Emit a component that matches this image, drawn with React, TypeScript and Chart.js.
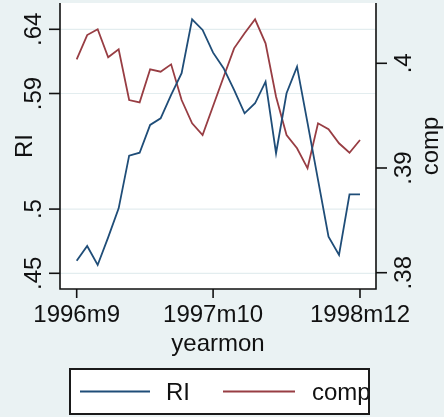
import React, { useEffect, useRef } from "react";
import { Chart, registerables } from "chart.js";

Chart.register(...registerables);

const months: string[] = [
  "1996m9", "1996m10", "1996m11", "1996m12",
  "1997m1", "1997m2", "1997m3", "1997m4", "1997m5", "1997m6",
  "1997m7", "1997m8", "1997m9", "1997m10", "1997m11", "1997m12",
  "1998m1", "1998m2", "1998m3", "1998m4", "1998m5", "1998m6",
  "1998m7", "1998m8", "1998m9", "1998m10", "1998m11", "1998m12",
];

const riValues: number[] = [
  0.4598, 0.4713, 0.4565, 0.478, 0.5006, 0.5416, 0.5439, 0.5655, 0.5707, 0.5889,
  0.6058, 0.6478, 0.6395, 0.6218, 0.6097, 0.5928, 0.5746, 0.5824, 0.5992, 0.5435,
  0.5902, 0.6109, 0.5671, 0.5227, 0.4785, 0.4643, 0.5115, 0.5115,
];

const compValues: number[] = [
  0.40038, 0.4027, 0.40325, 0.40057, 0.40134, 0.39649, 0.39627, 0.39943, 0.3992, 0.3999,
  0.39649, 0.39427, 0.39315, 0.39592, 0.39869, 0.40143, 0.40287, 0.4042, 0.40191, 0.39681,
  0.39315, 0.39188, 0.38997, 0.39427, 0.3937, 0.39236, 0.39146, 0.39267,
];

const leftTicks: number[] = [0.45, 0.5, 0.59, 0.64];
const leftTickLabels: string[] = [".45", ".5", ".59", ".64"];
const rightTicks: number[] = [0.38, 0.39, 0.4];
const rightTickLabels: string[] = [".38", ".39", ".4"];
const xTicks: number[] = [0, 13, 27];

const seriesNames: string[] = ["RI", "comp"];
const xTitle = "yearmon";

const BG = "#eaf2f3";
const BLUE = "#1f4d78";
const RED = "#983d43";
const INK = "#111111";
const FONT = '24px "Liberation Sans", Arial, sans-serif';

const stataPlugin = {
  id: "stataDecor",
  beforeDraw(chart: any) {
    const { ctx, chartArea: a, width, height } = chart;
    ctx.save();
    ctx.fillStyle = BG;
    ctx.fillRect(0, 0, width, height);
    ctx.fillStyle = "#ffffff";
    ctx.fillRect(a.left, a.top, a.right - a.left, a.bottom - a.top);
    const y = chart.scales.y;
    ctx.strokeStyle = "#e3edef";
    ctx.lineWidth = 1.2;
    leftTicks.forEach((t) => {
      const py = y.getPixelForValue(t);
      ctx.beginPath();
      ctx.moveTo(a.left, py);
      ctx.lineTo(a.right, py);
      ctx.stroke();
    });
    ctx.restore();
  },
  afterDraw(chart: any) {
    const { ctx, chartArea: a } = chart;
    const xs = chart.scales.x;
    const ys = chart.scales.y;
    const y1 = chart.scales.y1;
    ctx.save();
    ctx.strokeStyle = INK;
    ctx.lineWidth = 1.6;
    ctx.lineCap = "butt";
    ctx.beginPath();
    ctx.moveTo(a.left, a.top);
    ctx.lineTo(a.left, a.bottom);
    ctx.lineTo(a.right, a.bottom);
    ctx.lineTo(a.right, a.top);
    ctx.stroke();
    ctx.fillStyle = INK;
    ctx.font = FONT;
    leftTicks.forEach((t, i) => {
      const py = ys.getPixelForValue(t);
      ctx.beginPath();
      ctx.moveTo(a.left - 11, py);
      ctx.lineTo(a.left, py);
      ctx.stroke();
      ctx.save();
      ctx.translate(41, py);
      ctx.rotate(-Math.PI / 2);
      ctx.textAlign = "center";
      ctx.textBaseline = "alphabetic";
      ctx.fillText(leftTickLabels[i], 0, 0);
      ctx.restore();
    });
    rightTicks.forEach((t, i) => {
      const py = y1.getPixelForValue(t);
      ctx.beginPath();
      ctx.moveTo(a.right, py);
      ctx.lineTo(a.right + 11, py);
      ctx.stroke();
      ctx.save();
      ctx.translate(411, py);
      ctx.rotate(-Math.PI / 2);
      ctx.textAlign = "center";
      ctx.textBaseline = "alphabetic";
      ctx.fillText(rightTickLabels[i], 0, 0);
      ctx.restore();
    });
    xTicks.forEach((t) => {
      const px = xs.getPixelForValue(t);
      ctx.beginPath();
      ctx.moveTo(px, a.bottom);
      ctx.lineTo(px, a.bottom + 9);
      ctx.stroke();
      ctx.textAlign = "center";
      ctx.textBaseline = "alphabetic";
      ctx.fillText(months[t], px, 322);
    });
    const cy = (a.top + a.bottom) / 2;
    ctx.save();
    ctx.translate(32, cy);
    ctx.rotate(-Math.PI / 2);
    ctx.textAlign = "center";
    ctx.fillText(seriesNames[0], 0, 0);
    ctx.restore();
    ctx.save();
    ctx.translate(438, cy);
    ctx.rotate(-Math.PI / 2);
    ctx.textAlign = "center";
    ctx.fillText(seriesNames[1], 0, 0);
    ctx.restore();
    ctx.textAlign = "center";
    ctx.fillText(xTitle, (a.left + a.right) / 2, 351);
    const bx = 70, by = 369, bw = 299, bh = 45;
    ctx.fillStyle = "#ffffff";
    ctx.fillRect(bx, by, bw, bh);
    ctx.save();
    ctx.beginPath();
    ctx.rect(bx, by, bw, bh);
    ctx.clip();
    ctx.lineWidth = 1.8;
    ctx.strokeStyle = BLUE;
    ctx.beginPath();
    ctx.moveTo(80, 391.5);
    ctx.lineTo(150, 391.5);
    ctx.stroke();
    ctx.strokeStyle = RED;
    ctx.beginPath();
    ctx.moveTo(223, 391.5);
    ctx.lineTo(295, 391.5);
    ctx.stroke();
    ctx.fillStyle = INK;
    ctx.textAlign = "left";
    ctx.fillText(seriesNames[0], 166, 400);
    ctx.fillText(seriesNames[1], 312, 400);
    ctx.restore();
    ctx.strokeStyle = "#1a1a1a";
    ctx.lineWidth = 2;
    ctx.strokeRect(bx, by, bw, bh);
    ctx.restore();
  },
};

export default function App() {
  const canvasRef = useRef<HTMLCanvasElement | null>(null);

  useEffect(() => {
    const canvas = canvasRef.current;
    if (!canvas) return;
    const chart = new Chart(canvas, {
      type: "line",
      data: {
        datasets: [
          {
            label: seriesNames[0],
            data: riValues.map((v, i) => ({ x: i, y: v })),
            borderColor: BLUE,
            borderWidth: 1.8,
            pointRadius: 0,
            tension: 0,
            yAxisID: "y",
          },
          {
            label: seriesNames[1],
            data: compValues.map((v, i) => ({ x: i, y: v })),
            borderColor: RED,
            borderWidth: 1.8,
            pointRadius: 0,
            tension: 0,
            yAxisID: "y1",
          },
        ],
      },
      options: {
        responsive: false,
        animation: false,
        layout: { padding: { left: 60, right: 68, top: 3, bottom: 128 } },
        plugins: { legend: { display: false }, tooltip: { enabled: false }, title: { display: false } },
        scales: {
          x: { type: "linear", display: false, min: -1.59, max: 28.525 },
          y: { type: "linear", display: false, min: 0.43777, max: 0.66048 },
          y1: { type: "linear", display: false, min: 0.378443, max: 0.405759 },
        },
      },
      plugins: [stataPlugin],
    });
    return () => chart.destroy();
  }, []);

  return (
    <div style={{ position: "fixed", left: 0, top: 0, width: 444, height: 417 }}>
      <canvas ref={canvasRef} width={444} height={417} style={{ display: "block" }} />
    </div>
  );
}
